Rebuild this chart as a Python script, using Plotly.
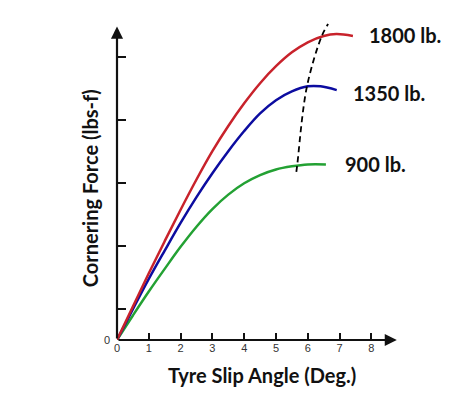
import plotly.graph_objects as go

# Data (slip angle in degrees, cornering force in arbitrary tick units)
red_x = [0, 0.5, 1, 1.5, 2, 2.5, 3, 3.5, 4, 4.5, 5, 5.5, 6, 6.5, 6.9, 7.42]
red_y = [0, 0.53, 1.06, 1.57, 2.07, 2.55, 3.0, 3.40, 3.76, 4.08, 4.35, 4.57, 4.73, 4.83, 4.86, 4.83]
blue_x = [0, 0.5, 1, 1.5, 2, 2.5, 3, 3.5, 4, 4.5, 5, 5.5, 6, 6.4, 6.91]
blue_y = [0, 0.49, 0.97, 1.42, 1.86, 2.27, 2.65, 3.0, 3.32, 3.6, 3.81, 3.95, 4.03, 4.03, 3.97]
green_x = [0, 0.5, 1, 1.5, 2, 2.5, 3, 3.5, 4, 4.5, 5, 5.5, 6, 6.57]
green_y = [0, 0.39, 0.77, 1.13, 1.48, 1.80, 2.08, 2.31, 2.49, 2.62, 2.71, 2.76, 2.79, 2.79]
peak_x = [5.64, 5.67, 5.97, 6.44, 6.64]
peak_y = [2.67, 2.79, 4.02, 4.83, 5.02]
loads = ["1800 lb.", "1350 lb.", "900 lb."]
x_ticks = [0, 1, 2, 3, 4, 5, 6, 7, 8]
y_ticks = [0, 0.5, 1.5, 2.5, 3.5, 4.5]
y_ticktext = ["0", "", "", "", "", ""]

XMAX, YMAX = 8.9, 5.1

fig = go.Figure()
for xs, ys, col in [(green_x, green_y, "#23a133"), (blue_x, blue_y, "#0c0ca0"), (red_x, red_y, "#c8222b")]:
    fig.add_trace(go.Scatter(x=xs, y=ys, mode="lines", line=dict(color=col, width=2.5, shape="spline"),
                             showlegend=False, hoverinfo="skip", cliponaxis=False))
fig.add_trace(go.Scatter(x=peak_x, y=peak_y, mode="lines",
                         line=dict(color="black", width=1.8, dash="6px,4px", shape="spline"),
                         showlegend=False, hoverinfo="skip", cliponaxis=False))

label_font = dict(family="Lato, Open Sans, sans-serif", size=20, color="#111")
label_pos = [(red_x[-1], red_y[-1]), (blue_x[-1], blue_y[-1]), (green_x[-1], green_y[-1])]
label_shift = [(14, 1), (14, -3), (17, 0)]
for txt, (lx, ly), (sx, sy) in zip(loads, label_pos, label_shift):
    fig.add_annotation(x=lx, y=ly, text="<b>%s</b>" % txt, showarrow=False, xanchor="left",
                       xshift=sx, yshift=sy, font=label_font)

# axis lines with arrows
fig.add_annotation(x=0, y=4.98, ax=0, ay=0, axref="x", ayref="y", xref="x", yref="y",
                   text="", showarrow=True, arrowhead=2, arrowsize=1.1, arrowwidth=2.2, arrowcolor="#111")
fig.add_annotation(x=8.8, y=0, ax=0, ay=0, axref="x", ayref="y", xref="x", yref="y",
                   text="", showarrow=True, arrowhead=2, arrowsize=1.1, arrowwidth=2.2, arrowcolor="#111")

fig.add_annotation(x=0.511, y=-0.109, xref="paper", yref="paper", text="<b>Tyre Slip Angle (Deg.)</b>",
                   showarrow=False, xanchor="center", yanchor="middle", font=label_font)
fig.add_annotation(x=-0.095, y=0.473, xref="paper", yref="paper", text="<b>Cornering Force (lbs-f)</b>",
                   showarrow=False, textangle=-90, xanchor="center", yanchor="middle", font=label_font)

fig.update_xaxes(range=[0, XMAX], tickvals=x_ticks, ticks="inside", ticklen=7, tickwidth=2,
                 tickcolor="#111", showgrid=False, zeroline=False, showline=False,
                 tickfont=dict(family="Liberation Sans, Arial", size=11, color="#333"))
fig.update_yaxes(range=[0, YMAX], tickvals=y_ticks, ticktext=y_ticktext, ticks="inside", ticklen=9,
                 tickwidth=2, tickcolor="#111", showgrid=False, zeroline=False, showline=False,
                 ticklabelstandoff=6,
                 tickfont=dict(family="Liberation Sans, Arial", size=11, color="#333"))
# page body has an 8px default margin, so the figure is sized to fit the 474x395 window
fig.update_layout(width=466, height=387, margin=dict(l=109, r=74, t=11, b=55),
                  plot_bgcolor="white", paper_bgcolor="white")
fig.write_html("out.html")
